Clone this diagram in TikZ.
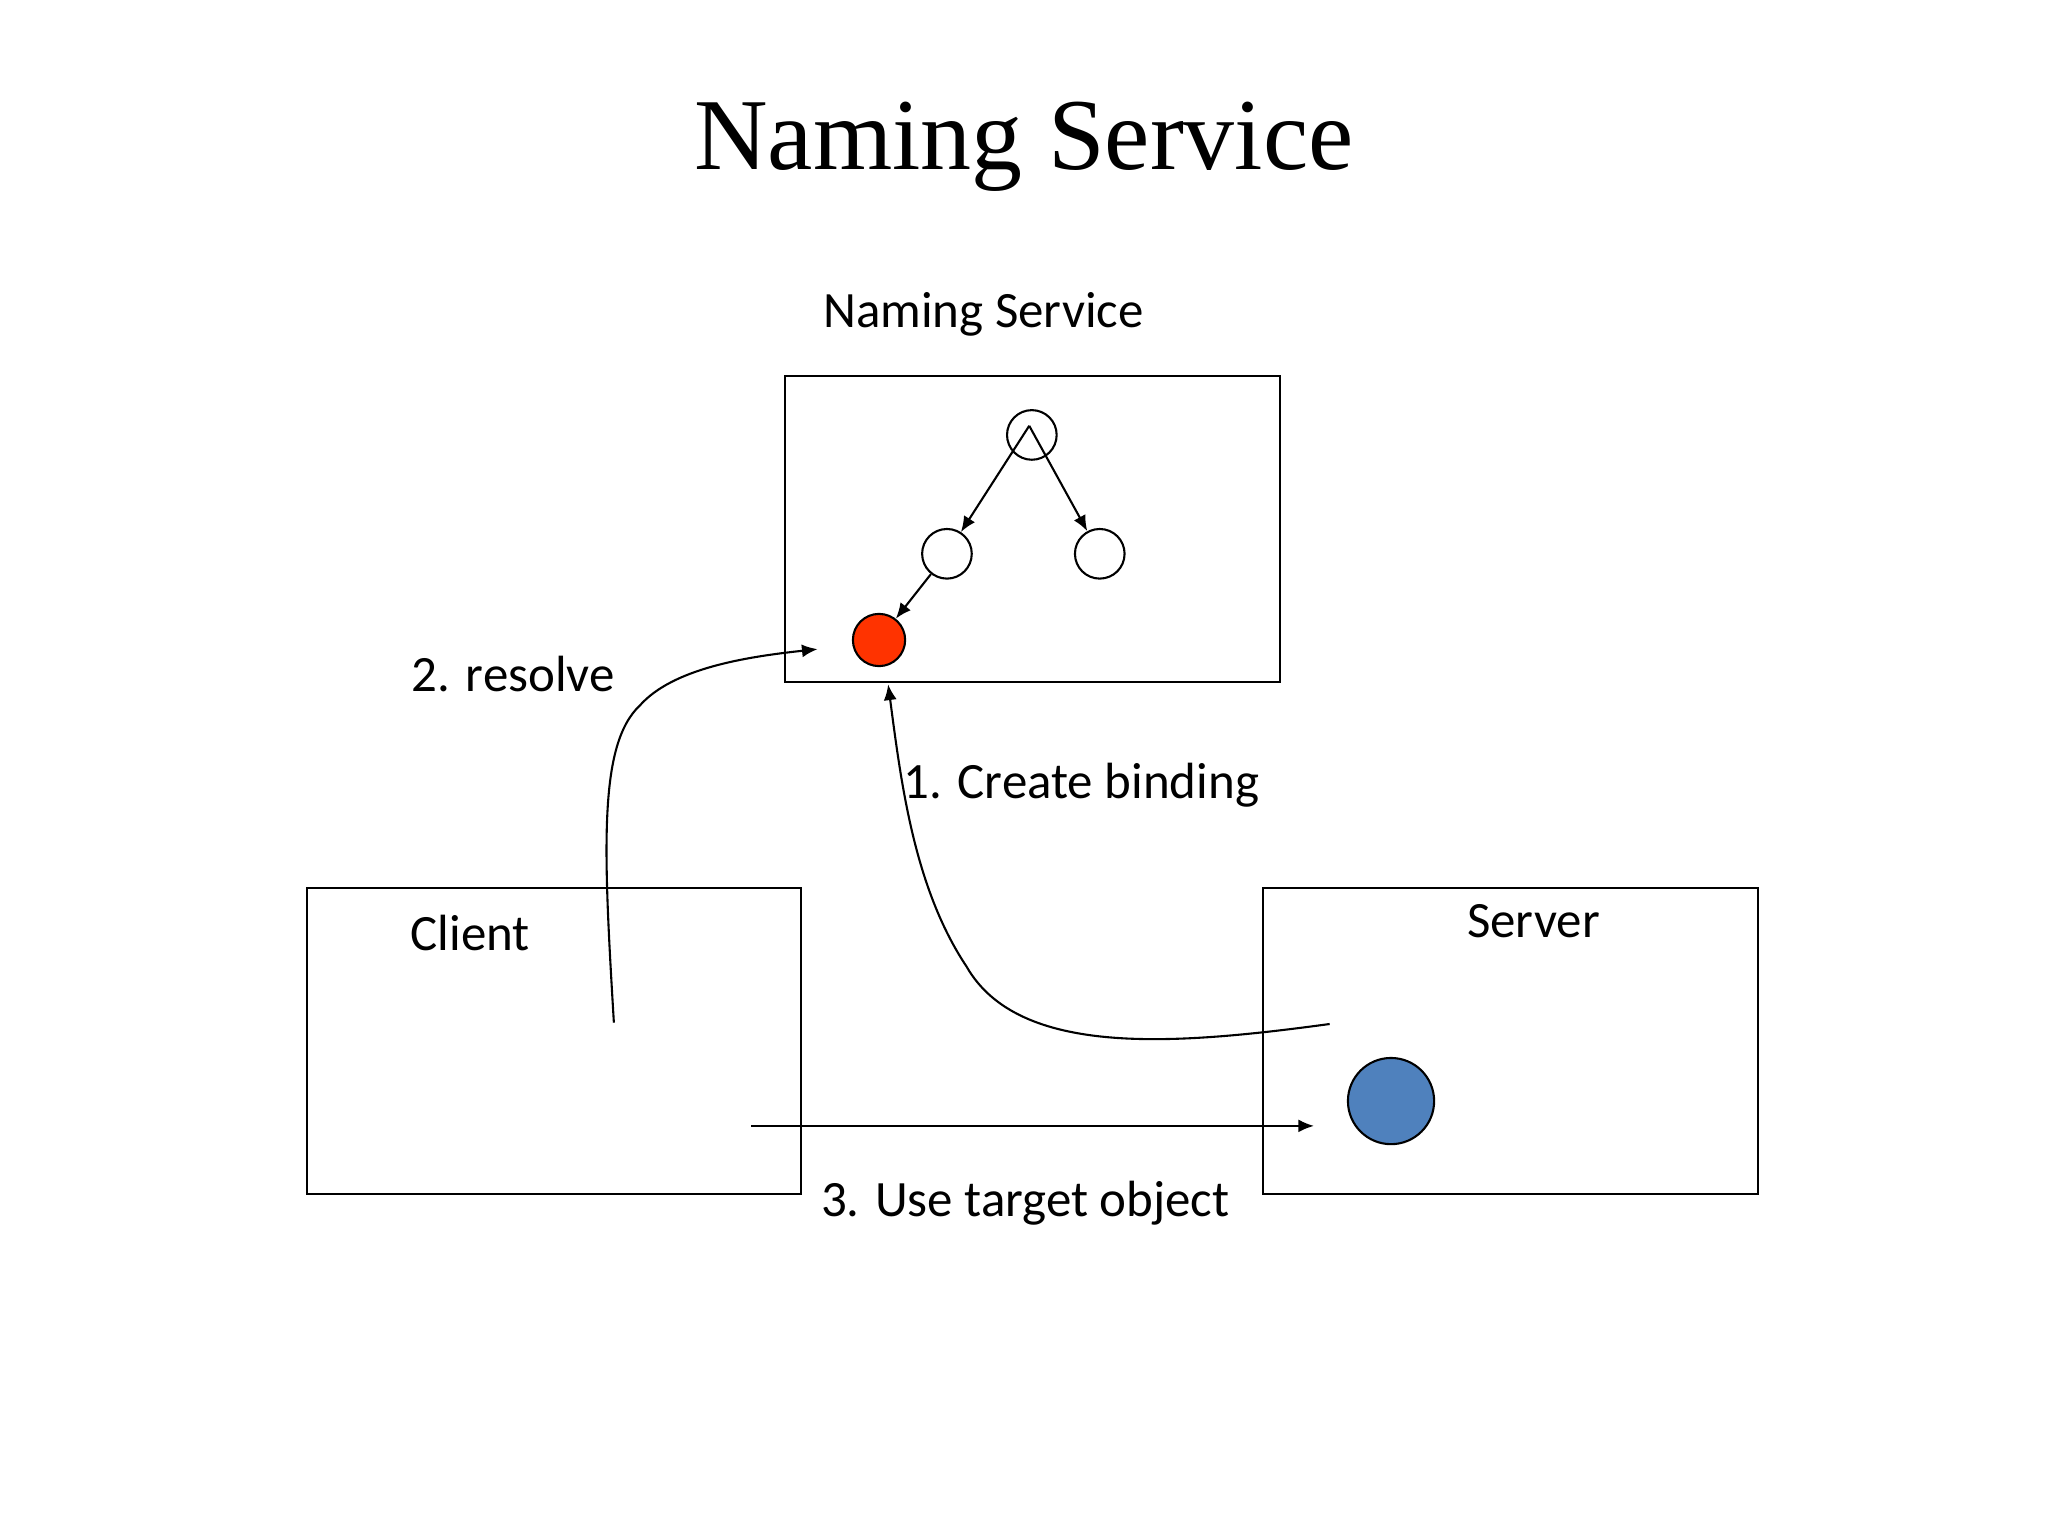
\documentclass[tikz,border=0pt]{standalone}
\usepackage{fontspec}
\setmainfont{Liberation Serif}
\newfontfamily\calfont{Carlito}
\usetikzlibrary{arrows.meta}
\begin{document}
\begin{tikzpicture}[x=0.5pt,y=-0.5pt,
  box/.style={draw,line width=0.8pt},
  nd/.style={circle,draw,line width=0.8pt,minimum size=19pt,inner sep=0pt},
  lbl/.style={font=\calfont\fontsize{19.5}{22}\selectfont},
  arr/.style={line width=0.8pt,-{Latex[length=6pt,width=5pt]}}]
\useasboundingbox (0,0) rectangle (1568,1176);
\node[font=\fontsize{39}{44}\selectfont] (title) at (784,112) {Naming Service};
\node[lbl] (nsl) at (753,241) {Naming Service};
\draw[box] (601,288) rectangle (980,522);
\node[nd] (root) at (790,333) {};
\node[nd] (lc) at (725,424) {};
\node[nd] (rc) at (842,424) {};
\node[nd,minimum size=20pt,fill={rgb,255:red,255;green,51;blue,0}] (red) at (673,490) {};
\coordinate (top) at (788,326);
\draw[arr] (top) -- (lc);
\draw[arr] (top) -- (rc);
\draw[arr] (lc) -- (red);
\draw[box] (235,680) rectangle (613,914);
\node[lbl] (client) at (360,714) {Client};
\draw[box] (967,680) rectangle (1346,914);
\node[lbl] (server) at (1174,705) {Server};
\node[nd,minimum size=33pt,fill={rgb,255:red,79;green,129;blue,189}] (blue) at (1065,843) {};
\coordinate (rs) at (470,783);
\coordinate (re) at (626,497);
\draw[arr] (rs) .. controls (462,650) and (458,570) .. (490,540) .. controls (515,512) and (570,503) .. (re);
\coordinate (cs) at (1018,784);
\coordinate (ce) at (680,524);
\draw[arr] (cs) .. controls (900,800) and (780,810) .. (740,740) .. controls (700,680) and (690,600) .. (ce);
\coordinate (us) at (575,862);
\coordinate (ue) at (1006,862);
\draw[arr] (us) -- (ue);
\node[lbl] (l2) at (393,516) {2. resolve};
\node[lbl] (l1) at (828,601) {1. Create binding};
\node[lbl] (l3) at (785,921) {3. Use target object};
\end{tikzpicture}
\end{document}
